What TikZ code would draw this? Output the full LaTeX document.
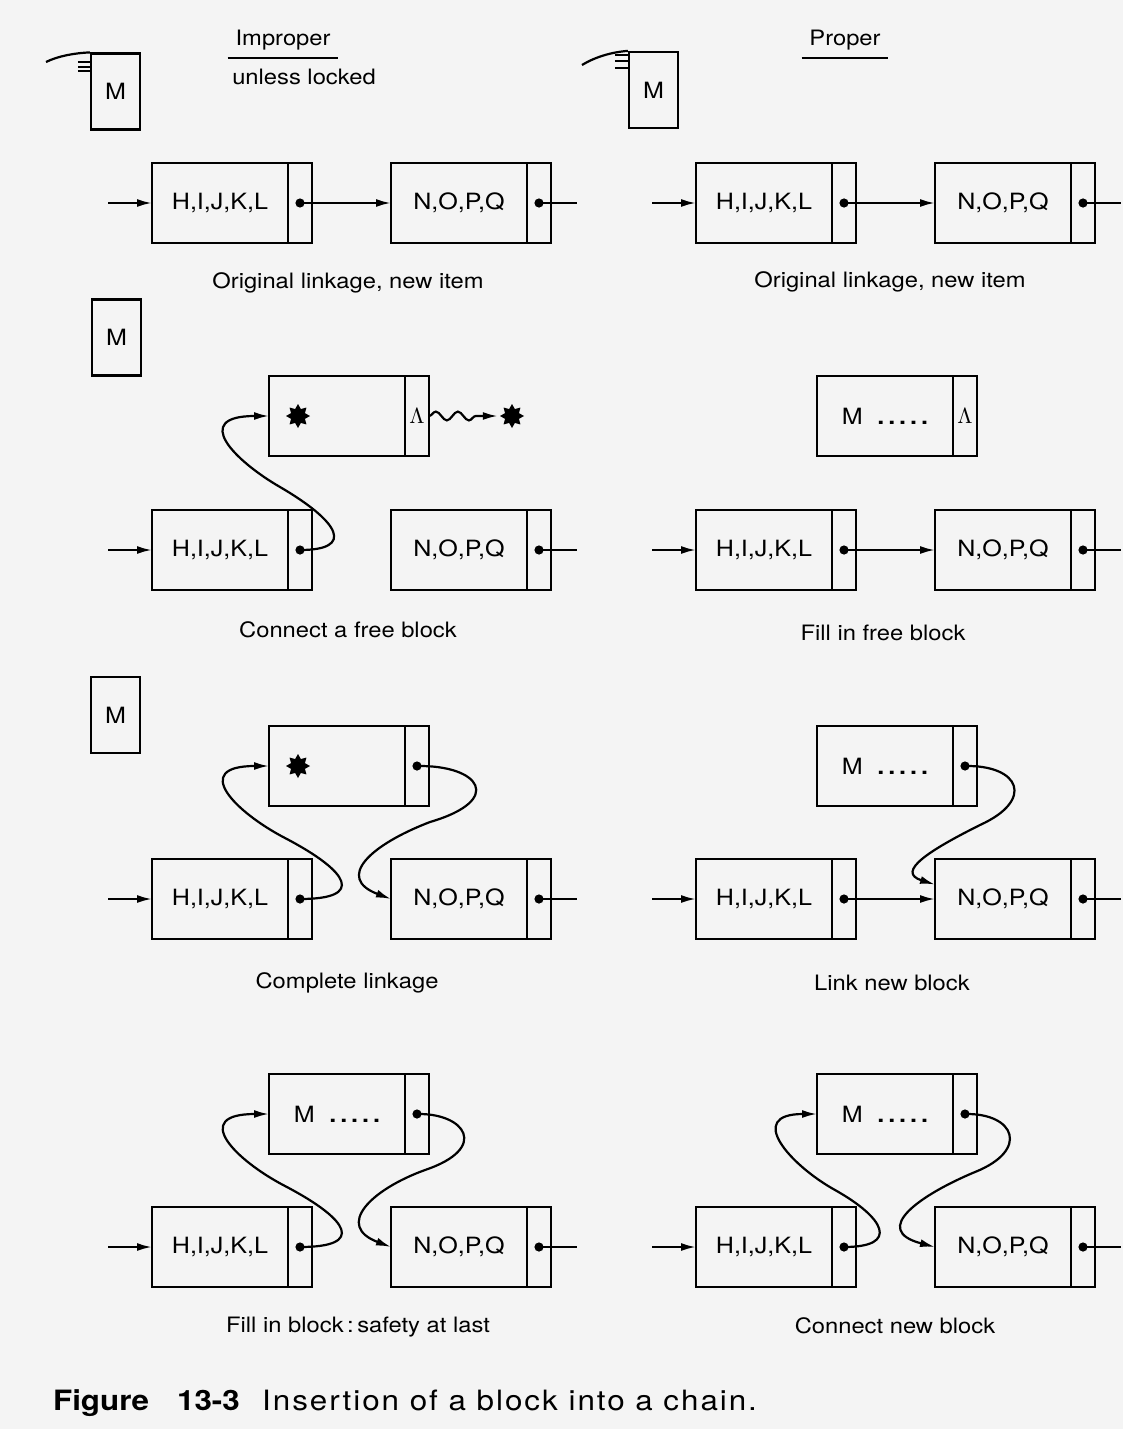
\documentclass[tikz,border=0pt]{standalone}
\usepackage{fontspec}
\setmainfont{TeX Gyre Heros}[FakeStretch=1.12]
\usepackage{tikz}
\usetikzlibrary{positioning,arrows.meta,shapes.geometric,decorations.pathmorphing}
\definecolor{paper}{gray}{0.955}
\newcommand{\blk}[4]{\node[fld] (#1) at (#2,#3) {#4}; \node[cel,right=0pt of #1] (#1p) {}; \fill (#1p.center) circle (2.3pt);}
\newcommand{\blknil}[4]{\node[fld] (#1) at (#2,#3) {#4}; \node[cel,right=0pt of #1] (#1p) {$\Lambda$};}
\newcommand{\chain}[3]{\blk{h#1}{#2}{#3}{H,I,J,K,L} \blk{n#1}{#2+239}{#3}{N,O,P,Q} \coordinate (in#1) at (#2-112,#3); \coordinate (out#1) at (#2+357,#3); \draw[ptr] (in#1) -- (h#1.west); \draw (n#1p.center) -- (out#1);}
\newcommand{\mrec}{M\hspace{0.65em}{\bfseries .\kern2pt.\kern2pt.\kern2pt.\kern2pt.}}

\begin{document}
\begin{tikzpicture}[x=0.5pt,y=-0.5pt,line width=1.1pt,
  fld/.style={draw,minimum width=68pt,minimum height=40pt,inner sep=0pt,outer sep=0pt,font=\fontsize{11.2}{13}\selectfont},
  cel/.style={draw,minimum width=12pt,minimum height=40pt,inner sep=0pt,outer sep=0pt,font=\fontsize{11}{13}\selectfont},
  mbox/.style={draw,minimum width=24.5pt,minimum height=38pt,inner sep=0pt,font=\fontsize{11.2}{13}\selectfont},
  ptr/.style={-{Latex[length=7.5pt,width=4pt]}},
  burst/.style={star,star points=8,star point ratio=1.6,fill,draw=none,inner sep=0pt,minimum size=12pt},
  lbl/.style={font=\fontsize{10.6}{12}\selectfont}]
\fill[paper] (0,0) rectangle (1123,1429);
\useasboundingbox (0,0) rectangle (1123,1429);

% improper / proper
\node[mbox] (m1) at (115.5,91.5) {M};
\draw (m1.north west) .. controls (75,53) and (58,56) .. (46,62);
\foreach \d in {10,15,19} \draw (m1.north west) ++(-12,\d) -- ++(12,0);
\node[lbl] (imp) at (283,40) {Improper};
\draw (imp.south west) -- (imp.south east);
\node[lbl] (unl) at (304,77) {unless locked};
\node[mbox] (m2) at (653.5,90) {M};
\draw (m2.north west) .. controls (612,52) and (595,57) .. (582,65);
\foreach \d in {4,10,17} \draw (m2.north west) ++(-13,\d) -- ++(13,0);
\node[lbl] (prp) at (845,40) {Proper};
\draw (prp.south west) -- (prp.south east);

% original linkage
\chain{1}{220}{203}
\draw[ptr] (h1p.center) -- (n1.west);
\node[lbl] (cap1) at (348,283) {Original linkage, new item};
\chain{2}{764}{203}
\draw[ptr] (h2p.center) -- (n2.west);
\node[lbl] (cap2) at (890,282) {Original linkage, new item};

% connect a free block
\node[mbox] (m3) at (116.5,337.5) {M};
\blknil{t3}{337}{416}{}
\node[burst] (s3) at (298,416) {};
\node[burst] (s3b) at (512,416) {};
\draw[ptr,decorate,decoration={snake,amplitude=2.2pt,segment length=11pt,post length=10pt}] (t3p.east) -- (s3b.west);
\chain{3}{220}{550}
\draw[ptr] (h3p.center) .. controls (355,550) and (340,522) .. (280,487) .. controls (235,461) and (190,416) .. (t3.west);
\node[lbl] (cap3) at (348,630) {Connect a free block};

% fill in free block
\blknil{t4}{885}{416}{\mrec}
\chain{4}{764}{550}
\draw[ptr] (h4p.center) -- (n4.west);
\node[lbl] (cap4) at (883,633) {Fill in free block};

% complete linkage
\node[mbox] (m5) at (115.5,715) {M};
\blk{t5}{337}{766}{}
\node[burst] (s5) at (298,766) {};
\chain{5}{220}{899}
\draw[ptr] (h5p.center) .. controls (365,899) and (350,872) .. (285,838) .. controls (235,812) and (190,766) .. (t5.west);
\draw[ptr] (t5p.center) .. controls (480,765) and (505,800) .. (430,822) .. controls (370,845) and (335,878) .. (n5.west);
\node[lbl] (cap5) at (347,983) {Complete linkage};

% link new block
\blk{t6}{885}{766}{\mrec}
\chain{6}{764}{899}
\draw[ptr] (h6p.center) -- (n6.west);
\draw[ptr] (t6p.center) .. controls (1020,765) and (1035,800) .. (980,825) .. controls (930,850) and (895,872) .. (n6.168);
\node[lbl] (cap6) at (892,983) {Link new block};

% fill in block, safety at last
\blk{t7}{337}{1114}{\mrec}
\chain{7}{220}{1247}
\draw[ptr] (h7p.center) .. controls (365,1247) and (350,1220) .. (285,1186) .. controls (235,1160) and (190,1114) .. (t7.west);
\draw[ptr] (t7p.center) .. controls (465,1113) and (490,1148) .. (425,1170) .. controls (370,1190) and (335,1226) .. (n7.west);
\node[lbl] (cap7) at (358,1327) {Fill in block\,:\,safety at last};

% connect new block
\blk{t8}{885}{1114}{\mrec}
\chain{8}{764}{1247}
\draw[ptr] (h8p.center) .. controls (900,1247) and (885,1218) .. (835,1190) .. controls (790,1165) and (745,1114) .. (t8.west);
\draw[ptr] (t8p.center) .. controls (1015,1113) and (1030,1150) .. (975,1172) .. controls (920,1195) and (870,1230) .. (n8.west);
\node[lbl] (cap8) at (895,1326) {Connect new block};

\node[anchor=base west,inner sep=0pt,font=\fontsize{14}{16}\selectfont] (fig) at (52,1410) {\textbf{Figure\hspace{1em}13-3}\hspace{0.8em}\addfontfeature{LetterSpace=7}Insertion of a block into a chain.};
\end{tikzpicture}
\end{document}
